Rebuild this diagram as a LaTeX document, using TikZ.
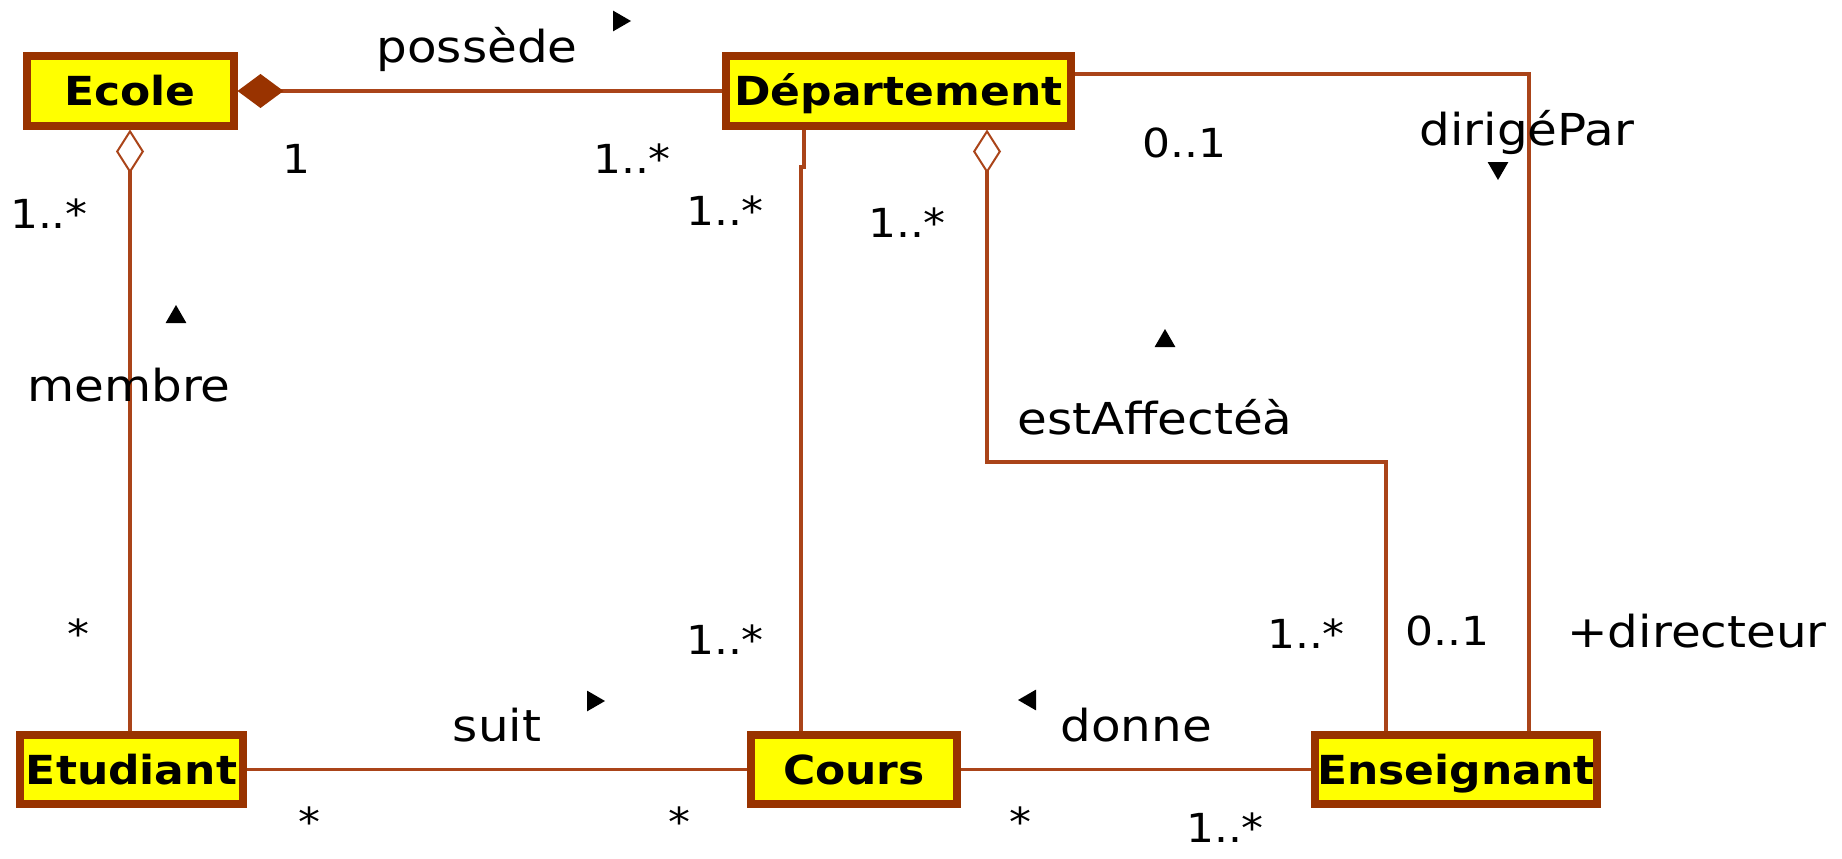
\documentclass[tikz,border=0pt]{standalone}
\usepackage{fontspec}
\setmainfont[FakeStretch=1.1]{DejaVu Sans}
\usetikzlibrary{arrows.meta,shapes.geometric}
\definecolor{boxedge}{RGB}{153,51,0}
\definecolor{boxfill}{RGB}{255,255,0}
\definecolor{linkc}{RGB}{170,68,25}
\begin{document}
\begin{tikzpicture}[x=1pt,y=-1pt,
  cls/.style={draw=boxedge, line width=8pt, fill=boxfill, inner sep=0pt,
    text height=35pt, text depth=6pt,
    minimum height=69pt, font=\fontsize{40}{40}\selectfont\bfseries},
  link/.style={draw=linkc, line width=3.5pt},
  aggr/.style={link, {Diamond[open, fill=white, length=44pt, width=28pt, line width=2pt]}-},
  compo/.style={link, {Diamond[color=boxedge, fill=boxedge, length=46pt, width=34pt]}-},
  lbl/.style={font=\fontsize{44}{44}\selectfont, inner sep=0pt},
  mult/.style={font=\fontsize{40}{40}\selectfont, inner sep=0pt},
  dirmark/.style={regular polygon, regular polygon sides=3, fill=black,
    draw=none, inner sep=0pt, minimum size=24pt},
]
\useasboundingbox (0,0) rectangle (1842,859);

% classes
\node[cls, minimum width=207pt] (ecole) at (130,91) {Ecole};
\node[cls, minimum width=345pt] (dept)  at (898.5,91) {Département};
\node[cls, minimum width=223pt] (etud)  at (131.5,769.5) {Etudiant};
\node[cls, minimum width=206pt] (cours) at (854,769.5) {Cours};
\node[cls, minimum width=282pt] (ens)   at (1456,769.5) {Enseignant};

% bend points of the routed associations
\coordinate (j1) at (804,167);
\coordinate (j2) at (801,167);
\coordinate (a1) at (987,462);
\coordinate (a2) at (1386,462);
\coordinate (d1) at (1529,74);

% associations
\draw[compo] (ecole.east) -- (dept.west);
\draw[aggr] (ecole.south) -- (ecole.south |- etud.north);
\draw[link] (j1 |- dept.south) -- (j1) -- (j2) -- (j2 |- cours.north);
\draw[aggr] (a1 |- dept.south) -- (a1) -- (a2) -- (a2 |- ens.north);
\draw[link] (dept.east |- d1) -- (d1) -- (d1 |- ens.north);
\draw[link] (etud.east) -- (cours.west);
\draw[link] (cours.east) -- (ens.west);

% association names and reading directions
\node[lbl] (nposs) at (477,49) {possède};
\node[dirmark, rotate=-90] (tposs) at (619,21) {};
\node[lbl] (nmemb) at (129,385) {membre};
\node[dirmark] (tmemb) at (176,317) {};
\node[lbl] (naff) at (1155,417) {estAffectéà};
\node[dirmark] (taff) at (1165,341) {};
\node[lbl] (ndir) at (1527,132) {dirigéPar};
\node[dirmark, rotate=180] (tdir) at (1498,168) {};
\node[lbl] (nsuit) at (497,725) {suit};
\node[dirmark, rotate=-90] (tsuit) at (593,701) {};
\node[lbl] (ndonne) at (1136,725) {donne};
\node[dirmark, rotate=90] (tdonne) at (1030,700) {};
\node[lbl] (nrole) at (1697,631) {+directeur};

% multiplicities
\node[mult] (m1) at (296,159) {1};
\node[mult] (m2) at (632,159) {1..*};
\node[mult] (m3) at (49,214) {1..*};
\node[mult] (m4) at (725,211) {1..*};
\node[mult] (m5) at (907,223) {1..*};
\node[mult] (m6) at (1184,143) {0..1};
\node[mult] (m7) at (78,634) {*};
\node[mult] (m8) at (725,640) {1..*};
\node[mult] (m9) at (1306,634) {1..*};
\node[mult] (m10) at (1447,631) {0..1};
\node[mult] (m11) at (309,822) {*};
\node[mult] (m12) at (679,822) {*};
\node[mult] (m13) at (1020,822) {*};
\node[mult] (m14) at (1225,828) {1..*};
\end{tikzpicture}
\end{document}
